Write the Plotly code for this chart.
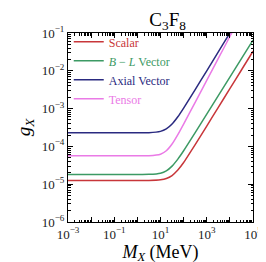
import plotly.graph_objects as go

# Mediator mass grid (MeV)
mass = [1e-3, 1e-2, 1e-1, 1.0, 3.16, 10.0, 17.8, 31.6, 56.2, 100.0, 316.0,
        1e3, 3.16e3, 1e4, 3.16e4, 1e5]

scalar = [1.26e-5, 1.26e-5, 1.26e-5, 1.26e-5, 1.26e-5, 1.31e-5, 1.41e-5, 1.69e-5,
          2.36e-5, 3.74e-5, 1.11e-4, 3.44e-4, 1.08e-3, 3.37e-3, 1.05e-2, 3.29e-2]
bl_vector = [1.80e-5, 1.80e-5, 1.80e-5, 1.80e-5, 1.82e-5, 1.96e-5, 2.26e-5, 3.01e-5,
             4.61e-5, 7.67e-5, 2.31e-4, 7.13e-4, 2.20e-3, 6.81e-3, 2.10e-2, 6.50e-2]
axial = [2.29e-4, 2.29e-4, 2.29e-4, 2.29e-4, 2.31e-4, 2.50e-4, 2.90e-4, 3.91e-4,
         6.07e-4, 1.03e-3, 3.17e-3, 1.0e-2, 3.16e-2, 1.0e-1, 3.16e-1, 1.0]
tensor = [5.62e-5, 5.62e-5, 5.62e-5, 5.62e-5, 5.66e-5, 6.22e-5, 7.67e-5, 1.16e-4,
          2.06e-4, 3.91e-4, 1.47e-3, 5.58e-3, 2.12e-2, 8.07e-2, 3.07e-1, 1.17]

names = ["Scalar", "<i>B</i> − <i>L</i> Vector", "Axial Vector", "Tensor"]
colors = ["#c8363a", "#3c9a64", "#2a2a80", "#ea7ae6"]
series = [scalar, bl_vector, axial, tensor]

x_tickvals = [1e-3, 1e-2, 1e-1, 1, 10, 100, 1e3, 1e4, 1e5]
x_ticktext = ["10<sup>−3</sup>", "", "10<sup>−1</sup>", "", "10<sup>1</sup>", "",
              "10<sup>3</sup>", "", "10<sup>5</sup>"]
y_tickvals = [1e-6, 1e-5, 1e-4, 1e-3, 1e-2, 1e-1]
y_ticktext = ["10<sup>−6</sup>", "10<sup>−5</sup>", "10<sup>−4</sup>",
              "10<sup>−3</sup>", "10<sup>−2</sup>", "10<sup>−1</sup>"]

FONT = "Liberation Serif"

fig = go.Figure()
for nm, col, ys in zip(names, colors, series):
    fig.add_trace(go.Scatter(
        x=mass, y=ys, mode="lines",
        line=dict(color=col, width=1.5, shape="spline", smoothing=0.6),
        name=f'<span style="color:{col}">{nm}</span>',
    ))

axis_common = dict(
    showline=True, linecolor="black", linewidth=1, mirror="ticks",
    ticks="inside", ticklen=5, tickcolor="black", tickwidth=1,
    showgrid=False, zeroline=False, ticklabeloverflow="allow",
    tickfont=dict(family=FONT, size=13, color="#222"),
    minor=dict(ticks="inside", ticklen=2.5, tickcolor="black", dtick="D1", showgrid=False),
)

fig.update_layout(
    width=266, height=262,
    margin=dict(l=60, r=14, t=25, b=48),
    paper_bgcolor="white", plot_bgcolor="white",
    title=dict(text="C<sub>3</sub>F<sub>8</sub>", x=0.6, xanchor="center",
               y=0.955, yanchor="middle",
               font=dict(family=FONT, size=19, color="black")),
    xaxis=dict(type="log", range=[-3, 5], tickvals=x_tickvals, ticktext=x_ticktext,
               title=dict(text="<i>M</i><sub><i>X</i></sub> (MeV)",
                          font=dict(family=FONT, size=18, color="black"), standoff=0),
               **axis_common),
    yaxis=dict(type="log", range=[-6, -1], tickvals=y_tickvals, ticktext=y_ticktext,
               title=dict(text="<i>g</i><sub><i>X</i></sub>",
                          font=dict(family=FONT, size=19, color="black"), standoff=6),
               **axis_common),
    legend=dict(x=0.004, y=1.03, xanchor="left", yanchor="top",
                bgcolor="rgba(0,0,0,0)", borderwidth=0,
                font=dict(family=FONT, size=12), tracegroupgap=0,
                itemwidth=30),
    showlegend=True,
)

fig.write_html("out.html")
